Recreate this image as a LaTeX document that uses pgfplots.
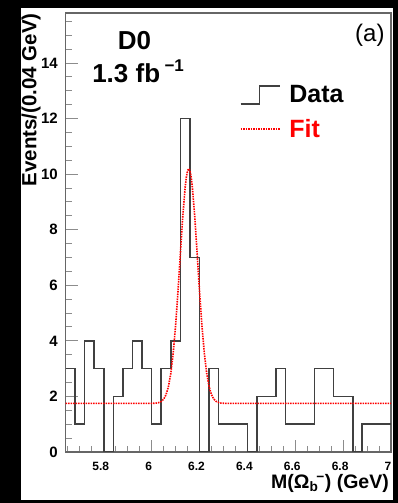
\documentclass[border=0pt]{standalone}
\usepackage{fontspec}
\setmainfont{Liberation Sans}
\usepackage{pgfplots}
\pgfplotsset{compat=1.18}
\pgfplotsset{
  datalegend/.style={legend image code/.code={\draw[##1] (0pt,-9pt) -- (19pt,-9pt) -- (19pt,9pt) -- (39pt,9pt);}},
  fitlegend/.style={legend image code/.code={\draw[##1] (0pt,0pt) -- (39pt,0pt);}},
}
\begin{document}
\begin{tikzpicture}[x=1pt,y=1pt]
\useasboundingbox (0,0) rectangle (398,503);
\fill[black] (0,0) rectangle (398,503);
\fill[white] (21,3) rectangle (393,495);
\begin{axis}[
  at={(65.5pt,51pt)}, anchor=south west, scale only axis,
  width=325.5pt, height=439pt,
  xmin=5.64, xmax=7.0, ymin=0, ymax=15.8,
  axis line style={black!60, line width=1.2pt},
  tick pos=left, tick align=inside,
  major tick length=12pt, minor tick length=6pt,
  every tick/.style={black!45, line width=1pt},
  xtick={5.8,6.0,6.2,6.4,6.6,6.8,7.0},
  xticklabels={5.8,6,6.2,6.4,6.6,6.8,7},
  minor xtick={5.65,5.70,5.75,5.85,5.90,5.95,6.05,6.10,6.15,6.25,6.30,6.35,6.45,6.50,6.55,6.65,6.70,6.75,6.85,6.90,6.95},
  ytick={0,2,4,6,8,10,12,14},
  minor ytick={0.5,1,1.5,2.5,3,3.5,4.5,5,5.5,6.5,7,7.5,8.5,9,9.5,10.5,11,11.5,12.5,13,13.5,14.5,15,15.5},
  /pgf/number format/assume math mode=true,
  yticklabel style={font=\bfseries\fontsize{15}{15}\selectfont, inner sep=0pt, xshift=-7.5pt},
  xticklabel style={font=\bfseries\fontsize{12}{12}\selectfont, inner sep=0pt, yshift=-10pt, xshift=-3pt},
  ylabel={Events/(0.04 GeV)},
  ylabel style={at={(axis description cs:-0.106,1.0)}, anchor=east, font=\bfseries\fontsize{20.5}{20.5}\selectfont, inner sep=0pt},
  xlabel={M(Ω\textsubscript{b}\kern-0.1em\textsuperscript{−}) (GeV)},
  xlabel style={at={(axis description cs:0.994,-0.0725)}, anchor=east, font=\bfseries\fontsize{19.5}{19.5}\selectfont, inner sep=0pt},
  legend style={at={(axis description cs:0.535,0.84)}, anchor=north west, draw=none, fill=none,
    font=\bfseries\fontsize{25}{25}\selectfont, row sep=11pt, inner sep=0pt, cells={anchor=west}},
  clip=true,
]
\addplot[const plot mark left, black!75, line width=1.6pt, datalegend]
coordinates {
(5.64,3) (5.68,1) (5.72,4) (5.76,3) (5.80,0) (5.84,2) (5.88,3) (5.92,4) (5.96,3)
(6.00,1) (6.04,3) (6.08,4) (6.12,12) (6.16,7) (6.20,0) (6.24,3) (6.28,1) (6.32,1)
(6.36,1) (6.40,0) (6.44,2) (6.48,2) (6.52,3) (6.56,1) (6.60,1) (6.64,1) (6.68,3)
(6.72,3) (6.76,2) (6.80,2) (6.84,0) (6.88,1) (6.92,1) (6.96,1) (7.00,1)
};
\addlegendentry{\hspace{7pt}Data}
\addplot[red, line width=1.6pt, dash pattern=on 1.5pt off 1pt, fitlegend]
coordinates {
(5.64,1.75) (6.00,1.75) (6.02,1.76) (6.03,1.78) (6.04,1.82) (6.05,1.90) (6.06,2.06)
(6.07,2.35) (6.08,2.83) (6.09,3.56) (6.10,4.55) (6.11,5.78) (6.12,7.15) (6.13,8.48)
(6.14,9.53) (6.145,9.90) (6.15,10.12) (6.155,10.20) (6.16,10.12) (6.165,9.90) (6.17,9.53)
(6.18,8.48) (6.19,7.15) (6.20,5.78) (6.21,4.55) (6.22,3.56) (6.23,2.83) (6.24,2.35)
(6.25,2.06) (6.26,1.90) (6.27,1.82) (6.28,1.78) (6.29,1.76) (6.31,1.75) (7.00,1.75)
};
\addlegendentry{\hspace{7pt}\textcolor{red}{Fit}}
\node[font=\bfseries\fontsize{26}{26}\selectfont] at (axis description cs:0.212,0.938) {D0};
\node[font=\bfseries\fontsize{26}{26}\selectfont] at (axis description cs:0.223,0.868) {1.3 fb\,\raisebox{0.42em}{\fontsize{17}{17}\selectfont −1}};
\node[font=\fontsize{24}{24}\selectfont] at (axis description cs:0.935,0.95) {(a)};
\end{axis}
\end{tikzpicture}
\end{document}
